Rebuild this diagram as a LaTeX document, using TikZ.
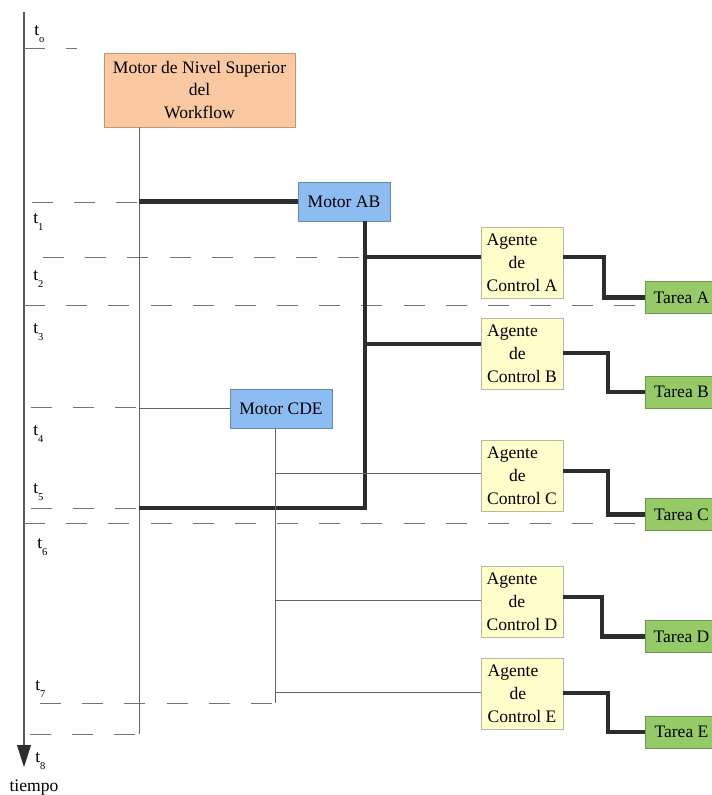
\documentclass[tikz,border=0pt]{standalone}
\usepackage{fontspec}
\setmainfont{Liberation Serif}
\usepackage{tikz}
\usetikzlibrary{arrows.meta,positioning,calc}
\usepackage{xcolor}
\definecolor{wforange}{RGB}{250,201,162}
\definecolor{wforangeb}{RGB}{190,150,120}
\definecolor{wfblue}{RGB}{140,188,242}
\definecolor{wfblueb}{RGB}{105,135,185}
\definecolor{wfyellow}{RGB}{255,255,204}
\definecolor{wfyellowb}{RGB}{185,185,160}
\definecolor{wfgreen}{RGB}{150,202,102}
\definecolor{wfgreenb}{RGB}{110,150,80}
\definecolor{busgray}{RGB}{45,45,45}
\tikzstyle{topbox} = [draw=wforangeb,fill=wforange,align=center,minimum width=3.82cm,minimum height=1.48cm,inner sep=0pt]
\tikzstyle{motorbox} = [draw=wfblueb,fill=wfblue,minimum height=0.78cm,inner sep=0pt]
\tikzstyle{agentbox} = [draw=wfyellowb,fill=wfyellow,align=left,minimum width=1.64cm,minimum height=1.42cm,inner sep=0pt]
\tikzstyle{taskbox} = [draw=wfgreenb,fill=wfgreen,minimum width=1.46cm,minimum height=0.64cm,inner sep=0pt]
\tikzstyle{bus} = [line width=2.6pt,color=busgray]
\tikzstyle{wire} = [line width=0.5pt,color=black!60]
\tikzstyle{guide} = [line width=0.5pt,color=black!55,dash pattern=on 12pt off 12pt]
\tikzstyle{tlabel} = [anchor=base west,inner sep=0pt]
\newcommand{\tsub}[1]{t\raisebox{-0.9ex}{\fontsize{6}{6}\selectfont #1}}
\newcommand{\agtext}[1]{Agente\\\hspace*{0.44cm}de\\Control #1}

\begin{document}
\begin{tikzpicture}[x=0.02cm,y=-0.02cm,font=\fontsize{10}{13}\selectfont]
\useasboundingbox (0,0) rectangle (711,795);

% Time axis
\coordinate (t0) at (24,12);
\coordinate (tend) at (24,767);
\draw[line width=0.6pt,color=black!65,-{Triangle[length=0.44cm,width=0.28cm,color=busgray]}] (t0) -- (tend);
\node[tlabel] (lbl0) at (34,35) {\tsub{o}};
\node[tlabel] (lbl1) at (33,223) {\tsub{1}};
\node[tlabel] (lbl2) at (33,280) {\tsub{2}};
\node[tlabel] (lbl3) at (33,333) {\tsub{3}};
\node[tlabel] (lbl4) at (33,435) {\tsub{4}};
\node[tlabel] (lbl5) at (33,493) {\tsub{5}};
\node[tlabel] (lbl6) at (37,548) {\tsub{6}};
\node[tlabel] (lbl7) at (35,690) {\tsub{7}};
\node[tlabel] (lbl8) at (35,762) {\tsub{8}};
\node[anchor=base,inner sep=0pt] (tiempo) at (34,791) {tiempo};

% Engines
\node[topbox] (top) at (199.5,90) {Motor de Nivel Superior\\del\\Workflow};
\node[motorbox,minimum width=1.84cm] (ab) at (344,201.5) {Motor AB};
\node[motorbox,minimum width=2.04cm] (cde) at (281,408.5) {Motor CDE};

% Control agents
\node[agentbox] (agA) at (522,262.5) {\agtext{A}};
\node[agentbox] (agB) at (522,353.5) {\agtext{B}};
\node[agentbox] (agC) at (522,475.5) {\agtext{C}};
\node[agentbox] (agD) at (522,602) {\agtext{D}};
\node[agentbox] (agE) at (522,693.5) {\agtext{E}};

% Tasks
\node[taskbox] (taA) at (681.5,297.5) {Tarea A};
\node[taskbox] (taB) at (681.5,392) {Tarea B};
\node[taskbox] (taC) at (681.5,514.5) {Tarea C};
\node[taskbox] (taD) at (681.5,636.5) {Tarea D};
\node[taskbox] (taE) at (681.5,732) {Tarea E};

% Time marks
\draw[guide] (24,48) -- (77,48);
\draw[guide] (32,202) -- (139,202);
\draw[guide] (43,257) -- (365,257);
\draw[guide] (24,305) -- (taA.west |- 0,305);
\draw[guide] (31,407) -- (139,407);
\draw[guide] (31,508) -- (139,508);
\draw[guide] (24,523) -- (taC.west |- 0,523);
\draw[guide] (40,703) -- (275,703);
\draw[guide] (30,734) -- (139,734);

% Top engine
\coordinate (wf) at (139,734);
\draw[wire] (top.south -| wf) -- (wf);
\draw[bus] (wf |- ab.west) -- (ab.west);
\draw[wire] (wf |- cde.west) -- (cde.west);

% Motor AB
\coordinate (abbus) at (365,508);
\draw[bus] (ab.south -| abbus) -- (abbus) -- (abbus -| wf);
\draw[bus] (abbus |- 0,257) -- (agA.west |- 0,257);
\draw[bus] (abbus |- 0,344) -- (agB.west |- 0,344);

% Motor CDE
\coordinate (cdebus) at (275,703);
\draw[wire] (cde.south -| cdebus) -- (cdebus);
\draw[wire] (cdebus |- 0,473) -- (agC.west |- 0,473);
\draw[wire] (cdebus |- 0,600) -- (agD.west |- 0,600);
\draw[wire] (cdebus |- 0,692) -- (agE.west |- 0,692);

% Agents to tasks
\draw[bus] (agA.east |- 0,257) -- (604,257) |- (taA.west);
\draw[bus] (agB.east |- 0,353) -- (608,353) |- (taB.west);
\draw[bus] (agC.east |- 0,471) -- (608,471) |- (taC.west);
\draw[bus] (agD.east |- 0,597) -- (602,597) |- (taD.west);
\draw[bus] (agE.east |- 0,693) -- (608,693) |- (taE.west);
\end{tikzpicture}
\end{document}
